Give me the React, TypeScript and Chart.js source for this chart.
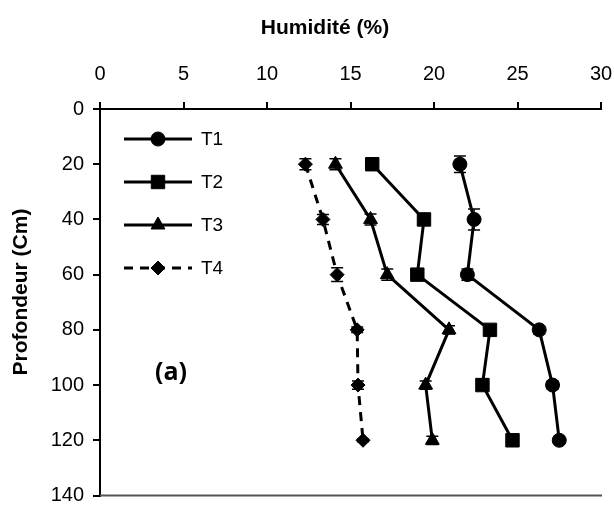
import React, { useEffect, useRef } from 'react';
import { Chart, registerables } from 'chart.js';
import { drawPoint } from 'chart.js/helpers';

Chart.register(...registerables);

// ---- data ----
const depths = [20, 40, 60, 80, 100, 120];
const seriesNames = ['T1', 'T2', 'T3', 'T4'];
const t1 = [21.55, 22.4, 22.0, 26.3, 27.1, 27.5];
const t2 = [16.3, 19.4, 19.0, 23.35, 22.9, 24.7];
const t3 = [14.1, 16.2, 17.2, 20.9, 19.5, 19.9];
const t4 = [12.3, 13.35, 14.2, 15.4, 15.45, 15.75];
// error (in depth units, vertical bars as in the original)
const t1Err = [3.0, 3.8, 2.0, 1.5, 1.5, 1.0];
const t2Err = [2.0, 1.5, 1.5, 1.0, 1.0, 0.5];
const t3Err = [2.0, 2.0, 2.0, 1.5, 1.5, 1.5];
const t4Err = [2.0, 1.8, 2.5, 1.0, 1.5, 0.5];
const xMin = 0, xMax = 30, xStep = 5;
const yMin = 0, yMax = 140, yStep = 20;
const xTitle = 'Humidité (%)';
const yTitle = 'Profondeur (Cm)';
const panelLabel = '(a)';

const FONT = '"Liberation Sans", Arial, sans-serif';

const decorPlugin = {
  id: 'decor',
  beforeDatasetsDraw(chart: any) {
    const { ctx, scales } = chart;
    const x = scales.x, y = scales.y;
    chart.data.datasets.forEach((ds: any) => {
      ds.data.forEach((p: any, j: number) => {
        const e = ds.errors[j];
        const px = x.getPixelForValue(p.x);
        const y1 = y.getPixelForValue(p.y - e);
        const y2 = y.getPixelForValue(p.y + e);
        ctx.save();
        ctx.strokeStyle = '#000';
        ctx.lineWidth = 1.5;
        ctx.beginPath();
        ctx.moveTo(px, y1); ctx.lineTo(px, y2);
        ctx.moveTo(px - 6, y1); ctx.lineTo(px + 6, y1);
        ctx.moveTo(px - 6, y2); ctx.lineTo(px + 6, y2);
        ctx.stroke();
        ctx.restore();
      });
    });
  },
  afterDraw(chart: any) {
    const { ctx, chartArea } = chart;
    const ca = chartArea;
    ctx.save();
    // bottom frame line
    ctx.strokeStyle = '#555';
    ctx.lineWidth = 2;
    ctx.beginPath();
    ctx.moveTo(ca.left, ca.bottom);
    ctx.lineTo(ca.right + 1, ca.bottom);
    ctx.stroke();

    // legend
    chart.data.datasets.forEach((ds: any, i: number) => {
      const ry = ca.top + 30 + i * 43;
      const x0 = ca.left + 24, x1 = ca.left + 92;
      ctx.save();
      ctx.strokeStyle = '#000';
      ctx.lineWidth = 3;
      ctx.setLineDash(ds.borderDash || []);
      ctx.beginPath();
      ctx.moveTo(x0, ry); ctx.lineTo(x1, ry);
      ctx.stroke();
      ctx.setLineDash([]);
      ctx.fillStyle = '#000';
      ctx.strokeStyle = '#000';
      ctx.lineWidth = 1;
      drawPoint(ctx, { pointStyle: ds.pointStyle, radius: ds.pointRadius, rotation: 0, borderWidth: 1 }, ca.left + 58, ry);
      ctx.restore();
      ctx.fillStyle = '#000';
      ctx.font = '19px ' + FONT;
      ctx.textAlign = 'left';
      ctx.textBaseline = 'middle';
      ctx.fillText(ds.label, ca.left + 101, ry + 1);
    });

    // axis titles
    ctx.fillStyle = '#000';
    ctx.font = 'bold 21px ' + FONT;
    ctx.textAlign = 'center';
    ctx.textBaseline = 'middle';
    ctx.fillText(xTitle, 325, 28);
    ctx.save();
    ctx.translate(21, 292);
    ctx.rotate(-Math.PI / 2);
    ctx.fillText(yTitle, 0, 0);
    ctx.restore();

    // panel label
    ctx.font = 'bold 25px "Open Sans", sans-serif';
    ctx.fillText(panelLabel, 171, 373);
    ctx.restore();
  },
};

const zeroPad = (s: any) => {
  s.paddingLeft = 0; s.paddingRight = 0; s.paddingTop = 0; s.paddingBottom = 0;
};

export default function App() {
  const ref = useRef<HTMLCanvasElement | null>(null);
  useEffect(() => {
    if (!ref.current) return;
    const series = [t1, t2, t3, t4];
    const errs = [t1Err, t2Err, t3Err, t4Err];
    const styles = ['circle', 'rect', 'triangle', 'rectRot'];
    const radii = [7, 9.5, 8, 7];
    const chart = new Chart(ref.current, {
      type: 'scatter',
      data: {
        datasets: series.map((vals, i) => ({
          label: seriesNames[i],
          data: vals.map((v, j) => ({ x: v, y: depths[j] })),
          errors: errs[i],
          showLine: true,
          borderColor: '#000',
          backgroundColor: '#000',
          borderWidth: 3,
          borderDash: i === 3 ? [9, 7] : [],
          pointStyle: styles[i],
          pointRadius: radii[i],
          pointBorderWidth: 1,
          pointBackgroundColor: '#000',
          pointBorderColor: '#000',
        })) as any,
      },
      options: {
        animation: false,
        responsive: true,
        maintainAspectRatio: false,
        layout: { padding: { left: 0, right: 13, top: 0, bottom: 9 } },
        plugins: { legend: { display: false }, tooltip: { enabled: false } },
        scales: {
          x: {
            type: 'linear',
            position: 'top',
            min: xMin,
            max: xMax,
            ticks: { stepSize: xStep, color: '#000', font: { size: 20, family: FONT }, padding: 16 },
            grid: { display: true, drawOnChartArea: false, drawTicks: true, tickLength: 7, color: '#000', lineWidth: 2 },
            border: { display: true, color: '#000', width: 2 },
            afterFit: (s: any) => { s.height = 109; zeroPad(s); },
          },
          y: {
            type: 'linear',
            position: 'left',
            reverse: true,
            min: yMin,
            max: yMax,
            ticks: { stepSize: yStep, color: '#000', font: { size: 20, family: FONT }, padding: 9 },
            grid: { display: true, drawOnChartArea: false, drawTicks: true, tickLength: 7, color: '#000', lineWidth: 2 },
            border: { display: true, color: '#000', width: 2 },
            afterFit: (s: any) => { s.width = 100; zeroPad(s); },
          },
        },
      } as any,
      plugins: [decorPlugin],
    });
    return () => chart.destroy();
  }, []);
  return (
    <div style={{ position: 'fixed', left: 0, top: 0, width: 614, height: 506, background: '#fff' }}>
      <canvas ref={ref} />
    </div>
  );
}
